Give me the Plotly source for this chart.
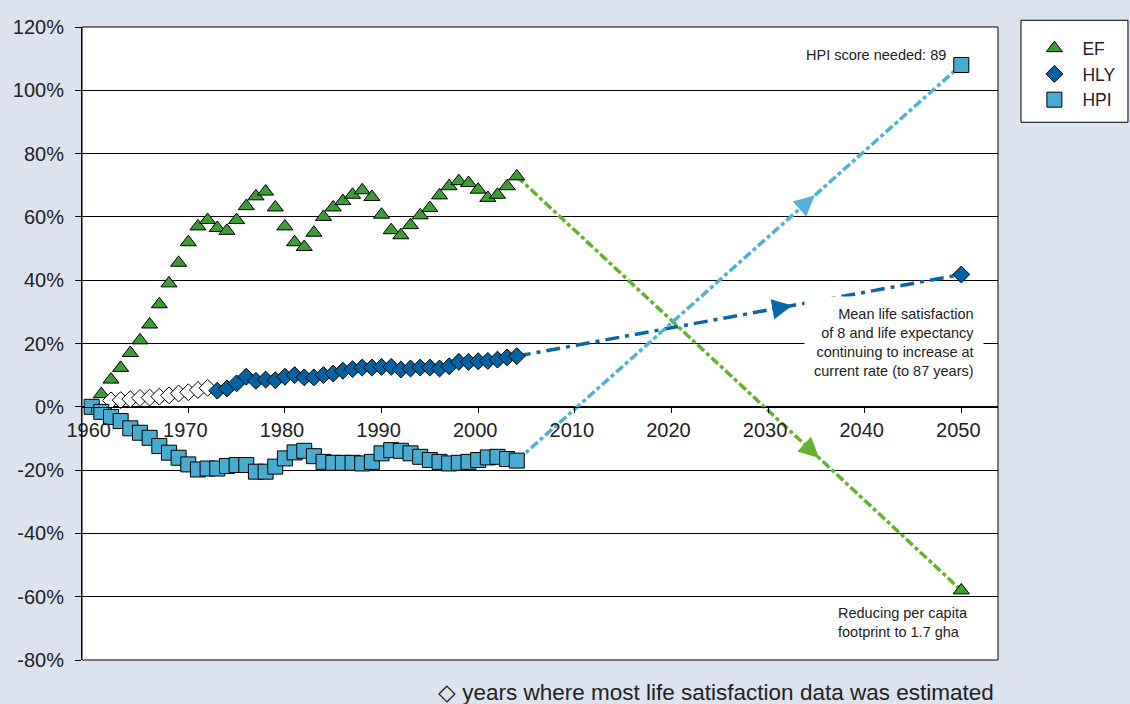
import math
import plotly.graph_objects as go

# ---------------- data ----------------
ef_years = list(range(1961, 2005))
ef_vals = [4, 8.6, 12.3, 17, 21, 26, 32.4, 39, 45.5, 52, 57, 59, 56.5, 55.6, 59, 63.4, 66.5, 68, 63, 57,
           52, 50.5, 55, 60, 63, 65, 67, 68.4, 66.3, 60.7, 55.8, 54.2, 57.4, 60.5, 62.8, 66.8, 69.7, 71.3,
           70.7, 68.6, 66, 67, 69.7, 72.8]

hly_est_years = list(range(1962, 1973))
hly_est_vals = [2.0, 2.1, 2.4, 2.8, 2.9, 3.2, 3.6, 4.2, 4.6, 5.3, 6.0]

hly_years = list(range(1973, 2005))
hly_vals = [5.1, 5.8, 7.4, 9.5, 8.2, 8.6, 8.4, 9.5,
            10, 9.3, 9.3, 10, 10.5, 11.4, 11.9, 12.4, 12.4, 12.6, 12.6, 11.8, 12.1, 12.4, 12.4, 12.1,
            12.8, 14.2, 14.2, 14.4, 14.5, 14.9, 15.6, 16.0]

hpi_years = list(range(1960, 2005))
hpi_vals = [0, -1.6, -3.2, -4.5, -6.8, -8.2, -9.8, -12.4, -14.5, -16.1, -18.2, -19.8, -19.5, -19.5,
            -18.7, -18.4, -18.4, -20.5, -20.5, -18.9, -16.3,
            -14.4, -13.9, -15.6, -17.4, -17.7, -17.7, -17.7, -17.9, -17.4, -14.7, -13.7, -13.9, -14.7,
            -15.8, -16.8, -17.4, -17.9, -17.7, -17.4, -16.8, -16.0, -15.8, -16.5, -17.0]

target_year = 2050
ef_target = -58
hly_target = 41.8
hpi_target = 108

x_ticks = list(range(1960, 2051, 10))
y_ticks = list(range(-80, 121, 20))
y_ticktext = [f"{v}%" for v in y_ticks]

# ---------------- style / layout constants ----------------
EF_FILL, EF_LINE = "#3e9c34", "#63b330"
HLY_FILL, HLY_LINE = "#0062a1", "#0a67a7"
HPI_FILL, HPI_LINE = "#4aabd0", "#50b0d8"
BG = "#dce3ee"
TXT = "#222222"
FONT = "Liberation Sans, Arial, Helvetica, sans-serif"

W, H = 1130, 704
ML, MR, MT, MB = 82, 132, 27, 44
X_RANGE = [1959, 2053.8]
Y_RANGE = [-80, 120]
px_per_x = (W - ML - MR) / (X_RANGE[1] - X_RANGE[0])
px_per_y = (H - MT - MB) / (Y_RANGE[1] - Y_RANGE[0])

fig = go.Figure()

# projection lines
proj = [
    (ef_years[-1], ef_vals[-1], ef_target, EF_LINE, "9px,3px,4px,3px", 0.68),
    (hly_years[-1], hly_vals[-1], hly_target, HLY_LINE, "14px,6px,4px,6px", 0.62),
    (hpi_years[-1], hpi_vals[-1], hpi_target, HPI_LINE, "9px,3px,4px,3px", 0.67),
]
for x0, y0, y1, col, dash, frac in proj:
    fig.add_trace(go.Scatter(x=[x0, target_year], y=[y0, y1], mode="lines",
                             line=dict(color=col, width=3.5, dash=dash),
                             showlegend=False, hoverinfo="skip"))

# arrow heads along the projections (annotation arrows with a very short tail)
for x0, y0, y1, col, dash, frac in proj:
    xa = x0 + frac * (target_year - x0)
    ya = y0 + frac * (y1 - y0)
    dxp = (target_year - x0) * px_per_x
    dyp = -(y1 - y0) * px_per_y
    n = math.hypot(dxp, dyp)
    tail = 14
    fig.add_annotation(x=xa, y=ya, xref="x", yref="y", text="", showarrow=True,
                       ax=-dxp / n * tail, ay=-dyp / n * tail,
                       arrowhead=2, arrowsize=1.35, arrowwidth=3, arrowcolor=col, standoff=0)

# EF
fig.add_trace(go.Scatter(x=ef_years + [target_year], y=ef_vals + [ef_target], mode="markers",
                         name="EF",
                         marker=dict(symbol="triangle-up", size=14, color=EF_FILL,
                                     line=dict(color="black", width=1))))
# HLY estimated (hollow)
fig.add_trace(go.Scatter(x=hly_est_years, y=hly_est_vals, mode="markers", showlegend=False,
                         marker=dict(symbol="diamond", size=13, color="white",
                                     line=dict(color="black", width=1))))
# HLY
fig.add_trace(go.Scatter(x=hly_years + [target_year], y=hly_vals + [hly_target], mode="markers",
                         name="HLY",
                         marker=dict(symbol="diamond", size=13, color=HLY_FILL,
                                     line=dict(color="black", width=1))))
# HPI
fig.add_trace(go.Scatter(x=hpi_years + [target_year], y=hpi_vals + [hpi_target], mode="markers",
                         name="HPI",
                         marker=dict(symbol="square", size=15, color=HPI_FILL,
                                     line=dict(color="black", width=1))))

# text annotations
fig.add_annotation(x=target_year, y=hpi_target, xref="x", yref="y", text="HPI score needed: 89",
                   showarrow=False, xanchor="right", yanchor="middle", xshift=-13, yshift=10,
                   font=dict(size=14.5, color=TXT))
fig.add_annotation(x=target_year, y=20.4, xref="x", yref="y",
                   text="Mean life satisfaction<br>of 8 and life expectancy<br>continuing to increase at<br>current rate (to 87 years)",
                   showarrow=False, xanchor="right", yanchor="middle", align="right",
                   xshift=23, bgcolor="white", borderpad=9,
                   font=dict(size=14.5, color=TXT))
fig.add_annotation(x=target_year, y=ef_target, xref="x", yref="y",
                   text="Reducing per capita<br>footprint to 1.7 gha",
                   showarrow=False, xanchor="left", yanchor="middle", align="left",
                   xshift=-125, yshift=-32, font=dict(size=14.5, color=TXT))
fig.add_annotation(x=0.998, y=-0.0506, xref="paper", yref="paper",
                   text="\u25C7 years where most life satisfaction data was estimated",
                   showarrow=False, xanchor="right", yanchor="middle",
                   font=dict(size=22.5, color=TXT))

# plot border
fig.add_shape(type="rect", xref="paper", yref="paper", x0=0, y0=0, x1=1, y1=1,
              line=dict(color="black", width=1), fillcolor="rgba(0,0,0,0)", layer="above")
# legend box
fig.add_shape(type="rect", xref="paper", yref="paper", x0=1.0251, x1=1.1419, y0=0.8495, y1=1.0106,
              line=dict(color="black", width=1), fillcolor="white", layer="below")

fig.update_layout(
    width=W, height=H,
    paper_bgcolor=BG, plot_bgcolor="white",
    margin=dict(l=ML, r=MR, t=MT, b=MB, autoexpand=False),
    font=dict(family=FONT, size=19, color=TXT),
    showlegend=True,
    legend=dict(x=1.031, y=0.9948, xanchor="left", yanchor="top", bgcolor="rgba(0,0,0,0)",
                borderwidth=0, font=dict(size=17.5, color=TXT), itemwidth=46,
                tracegroupgap=0),
    xaxis=dict(range=X_RANGE, tickmode="array", tickvals=x_ticks,
               ticks="outside", ticklen=5, tickcolor="black", showgrid=False, zeroline=False,
               showline=True, linecolor="black", linewidth=1, automargin=False,
               anchor="free", position=0.4, ticklabelshift=-3,
               tickfont=dict(size=20, color=TXT)),
    yaxis=dict(range=Y_RANGE, tickmode="array", tickvals=y_ticks, ticktext=y_ticktext,
               showgrid=True, gridcolor="black", gridwidth=1, zeroline=False,
               ticks="outside", ticklen=6, tickcolor="black", automargin=False,
               showline=True, linecolor="black", ticklabelstandoff=7,
               tickfont=dict(size=20, color=TXT)),
)

fig.write_html("out.html", config={"displayModeBar": False},
               post_script="document.body.style.margin='0px';document.body.style.padding='0px';"
                           "document.body.style.background='" + BG + "';")
